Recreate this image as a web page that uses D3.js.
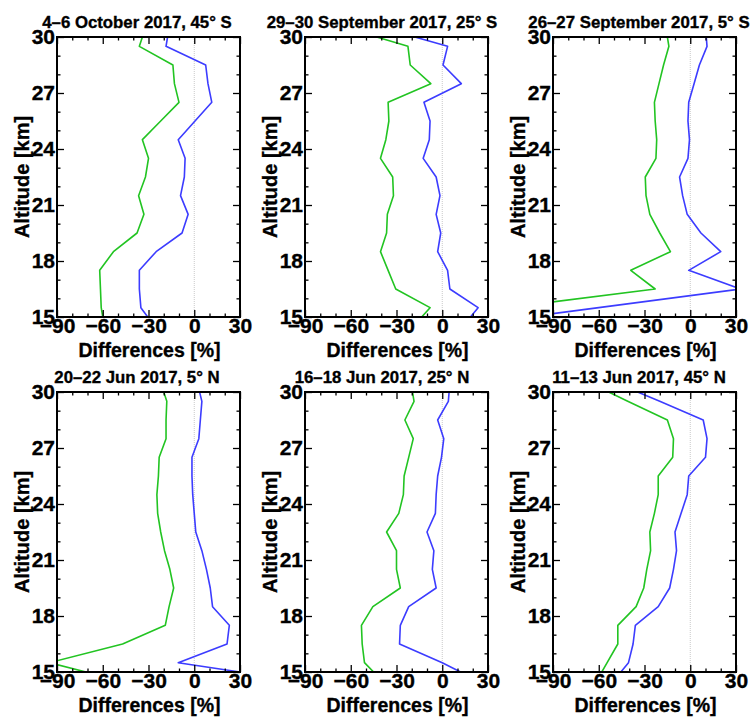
<!DOCTYPE html>
<html><head><meta charset="utf-8">
<script src="https://cdn.jsdelivr.net/npm/d3@7"></script>
<style>
body{margin:0;background:#fff;}
svg text{font-family:"Liberation Sans",Arial,Helvetica,sans-serif;font-weight:bold;fill:#000;stroke:#000;stroke-width:0.35px;}
</style></head>
<body><svg id="c" width="753" height="719"></svg>
<script>
// ---- data ----
const altitudes = [15, 15.5, 16.5, 17.5, 18.5, 19.5, 20.5, 21.5, 22.5, 23.5, 24.5, 25.5, 26.5, 27.5, 28.5, 29.5, 30];
const titles = ["4\u20136 October 2017, 45\u00b0 S", "29\u201330 September 2017, 25\u00b0 S", "26\u201327 September 2017, 5\u00b0 S",
                "20\u201322 Jun 2017, 5\u00b0 N", "16\u201318 Jun 2017, 25\u00b0 N", "11\u201313 Jun 2017, 45\u00b0 N"];
const green1 = [-60, -61, -61.5, -62, -53, -37.5, -33, -36.5, -32, -30, -34, -22, -10, -13, -14, -36, -34];
const blue1  = [-30.5, -35, -36, -36, -25, -8, -4, -9, -6.5, -6, -10.5, 0.5, 11.5, 9, 7.5, -18.5, -17.5];
const green2 = [-13.5, -8, -30.5, -35.5, -40.5, -36.5, -36, -32, -32.5, -40.5, -37, -35, -35.5, -7.5, -21, -22.5, -43];
const blue2  = [18.5, 23.5, 5, 3.5, -3, -1, -4, -1.5, -4, -12.5, -8.5, -8, -12, 12.5, 0.5, 3.5, -18];
const green3 = [-130, -120, -23, -39, -13, -20, -26.5, -29, -29.5, -22.5, -22, -23, -23.5, -20.5, -17.5, -14, -15];
const blue3  = [-107, -60, 33, -1, 20, 7, -2, -5, -7, -1.5, -0.5, -1.5, -1, 2.5, 6, 11, 10.5];
const green4 = [-71, -95, -47, -19, -16.5, -13.5, -16, -19.5, -22, -24, -24.5, -23.5, -23, -18.5, -18.5, -18, -20];
const blue4  = [30, -10.5, 21.5, 23, 12, 10.5, 8, 5, 1, 0, -1, -1.5, -1.5, 3, 4, 5, 3.5];
const green5 = [-45, -51, -52.5, -53, -45.5, -27.5, -30, -30, -36.5, -28.5, -25.5, -25, -22, -19, -24.5, -18.5, -19.5];
const blue5  = [12, 0, -28, -27.5, -22, -4, -6.5, -5.5, -10, -4.5, -4, -3, -0.5, 1, -3, 4, 4.5];
const green6 = [-58, -54.5, -47.5, -47.5, -35.5, -30.5, -28.5, -26, -26.5, -23.5, -21, -21, -11.5, -11, -15, -41, -53.5];
const blue6  = [-45.5, -40.5, -37.5, -36, -21, -13.5, -11, -9, -10, -6, -2, -1, 10, 11, 8.5, -20, -34.5];
const xMajorTicks = [-90, -60, -30, 0, 30];
const xMinorTicks = [-80, -70, -50, -40, -20, -10, 10, 20];
const yMajorTicks = [15, 18, 21, 24, 27, 30];
const yMinorTicks = [16, 17, 19, 20, 22, 23, 25, 26, 28, 29];
const xTitle = "Differences [%]";
const yTitle = "Altitude [km]";

const panels = [
  {title: titles[0], green: green1, blue: blue1},
  {title: titles[1], green: green2, blue: blue2},
  {title: titles[2], green: green3, blue: blue3},
  {title: titles[3], green: green4, blue: blue4},
  {title: titles[4], green: green5, blue: blue5},
  {title: titles[5], green: green6, blue: blue6}
];

// ---- layout ----
const lefts = [57, 305, 553];
const tops = [37, 392];
const titleCenters = [137, 382, 639];
const W = 183, H = 280;
const GREEN = "#22c422", BLUE = "#3c3cff";

const svg = d3.select("#c");
const x = d3.scaleLinear().domain([-90, 30]).range([0, W]);
const y = d3.scaleLinear().domain([15, 30]).range([H, 0]);

panels.forEach((p, i) => {
  const col = i % 3, row = Math.floor(i / 3);
  const g = svg.append("g").attr("transform", `translate(${lefts[col]},${tops[row]})`);
  const cid = "clip" + i;
  g.append("clipPath").attr("id", cid).append("rect").attr("width", W).attr("height", H);

  // zero line
  g.append("line").attr("x1", x(0)).attr("x2", x(0)).attr("y1", 0).attr("y2", H)
    .attr("stroke", "#bbb").attr("stroke-width", 0.8).attr("stroke-dasharray", "1,1");

  const line = d3.line().x(d => x(d[0])).y(d => y(d[1]));
  const gl = g.append("g").attr("clip-path", `url(#${cid})`);
  gl.append("path").datum(p.green.map((v, k) => [v, altitudes[k]])).attr("d", line)
    .attr("fill", "none").attr("stroke", GREEN).attr("stroke-width", 1.6).attr("stroke-linejoin", "round");
  gl.append("path").datum(p.blue.map((v, k) => [v, altitudes[k]])).attr("d", line)
    .attr("fill", "none").attr("stroke", BLUE).attr("stroke-width", 1.6).attr("stroke-linejoin", "round");

  // axes (inward ticks)
  const mk = (sel, axis) => { sel.call(axis); sel.select(".domain").remove(); sel.selectAll("line").attr("stroke", "#000").attr("stroke-width", 1.3); return sel; };
  const bot = mk(g.append("g").attr("transform", `translate(0,${H})`),
    d3.axisBottom(x).tickValues(xMajorTicks).tickSize(-7).tickPadding(1).tickFormat(d3.format("d")));
  bot.selectAll("text").attr("font-size", 21);
  mk(g.append("g").attr("transform", `translate(0,${H})`), d3.axisBottom(x).tickValues(xMinorTicks).tickSize(-3.5).tickFormat(""));
  mk(g.append("g"), d3.axisTop(x).tickValues(xMajorTicks).tickSize(-7).tickFormat(""));
  mk(g.append("g"), d3.axisTop(x).tickValues(xMinorTicks).tickSize(-3.5).tickFormat(""));
  const lef = mk(g.append("g"), d3.axisLeft(y).tickValues(yMajorTicks).tickSize(-7).tickPadding(2).tickFormat(d3.format("d")));
  lef.selectAll("text").attr("font-size", 21);
  mk(g.append("g"), d3.axisLeft(y).tickValues(yMinorTicks).tickSize(-3.5).tickFormat(""));
  mk(g.append("g").attr("transform", `translate(${W},0)`), d3.axisRight(y).tickValues(yMajorTicks).tickSize(-7).tickFormat(""));
  mk(g.append("g").attr("transform", `translate(${W},0)`), d3.axisRight(y).tickValues(yMinorTicks).tickSize(-3.5).tickFormat(""));
  svg.selectAll(".tick text").attr("font-family", null).attr("fill", "#000");

  // frame
  g.append("rect").attr("width", W).attr("height", H).attr("fill", "none").attr("stroke", "#000").attr("stroke-width", 2);

  // titles
  svg.append("text").attr("x", titleCenters[col]).attr("y", tops[row] - 9).attr("text-anchor", "middle")
    .attr("font-size", 16.8).text(p.title);
  g.append("text").attr("x", W / 2 + 1).attr("y", H + 39.5).attr("text-anchor", "middle").attr("font-size", 19.5).text(xTitle);
  g.append("text").attr("transform", `translate(-28,${H / 2}) rotate(-90)`)
    .attr("text-anchor", "middle").attr("font-size", 20).text(yTitle);
});
</script></body></html>
